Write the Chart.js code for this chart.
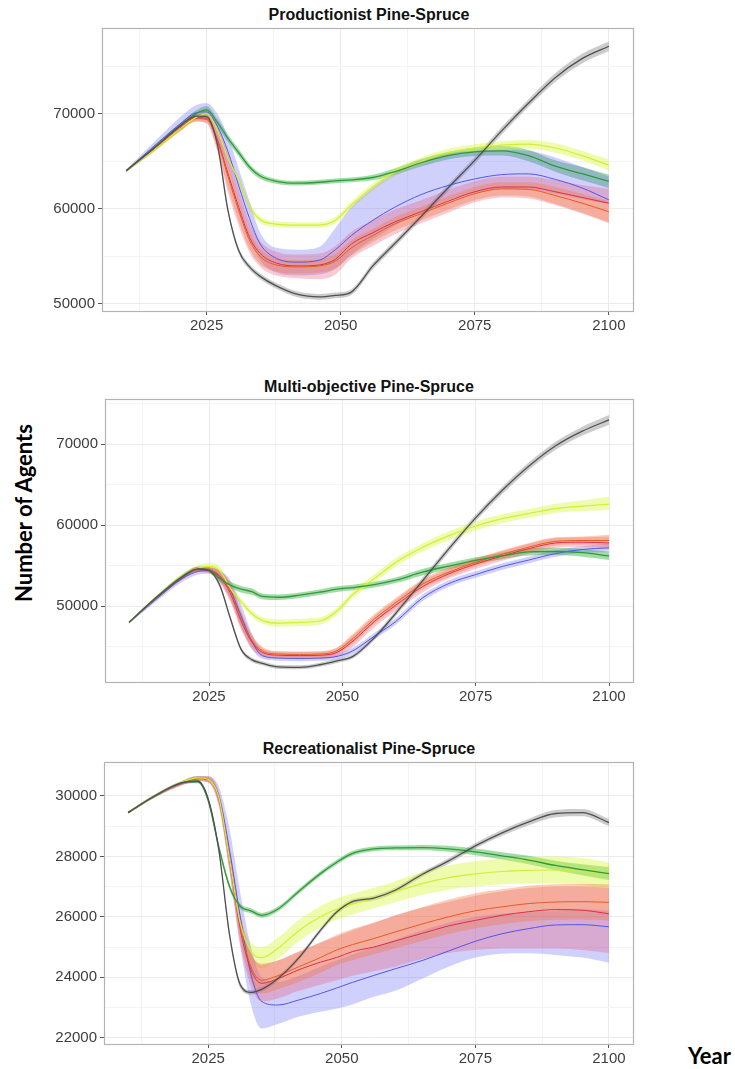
<!DOCTYPE html>
<html>
<head>
<meta charset="utf-8">
<script src="https://cdn.jsdelivr.net/npm/chart.js@4.4.1/dist/chart.umd.min.js"></script>
<style>
html,body{margin:0;padding:0;background:#fff;}
body{width:735px;height:1069px;position:relative;overflow:hidden;}
canvas{position:absolute;left:0;}
.ttl{position:absolute;left:119px;width:500px;height:20px;line-height:20px;text-align:center;white-space:nowrap;
  font-family:"Liberation Sans",Arial,sans-serif;font-weight:bold;font-size:16px;color:#111;}
.axl{position:absolute;font-family:Lato,"Open Sans",sans-serif;font-weight:bold;font-size:22px;color:#000;white-space:nowrap;}
</style>
</head>
<body>
<div class="ttl" style="top:5px">Productionist Pine-Spruce</div>
<div class="ttl" style="top:377px">Multi-objective Pine-Spruce</div>
<div class="ttl" style="top:739px">Recreationalist Pine-Spruce</div>
<div class="axl" style="left:-126px;top:498px;width:300px;height:30px;line-height:30px;text-align:center;transform:rotate(-90deg);">Number of Agents</div>
<div class="axl" style="left:688px;top:1041px;height:30px;line-height:30px;">Year</div>
<canvas id="c1" width="735" height="350" style="top:0px"></canvas>
<canvas id="c2" width="735" height="330" style="top:380px"></canvas>
<canvas id="c3" width="735" height="329" style="top:740px"></canvas>
<script>
// ---------- data ----------
const years = [2010, 2015, 2020, 2023, 2025, 2027, 2029, 2031, 2033, 2035, 2038, 2042, 2046, 2049, 2052, 2056, 2060, 2065, 2070, 2075, 2080, 2085, 2090, 2095, 2100];
const xMajorTicks = [2025, 2050, 2075, 2100];
const xMinorTicks = [2012.5, 2037.5, 2062.5, 2087.5];

// Panel 1: Productionist Pine-Spruce
const p1_grey    = [64000, 66300, 68700, 69750, 69700, 66800, 59800, 55600, 53900, 52900, 51900, 51000, 50750, 50900, 51250, 54000, 56300, 59200, 62200, 65100, 68200, 71100, 73800, 75800, 77100];
const p1_grey_lo = [63900, 66150, 68500, 69500, 69450, 66500, 59500, 55300, 53600, 52600, 51600, 50700, 50450, 50600, 50950, 53650, 55950, 58850, 61850, 64750, 67800, 70700, 73350, 75300, 76600];
const p1_grey_hi = [64100, 66450, 68900, 70000, 69950, 67100, 60100, 55900, 54200, 53200, 52200, 51300, 51050, 51200, 51550, 54350, 56650, 59550, 62550, 65450, 68600, 71500, 74250, 76300, 77600];
const p1_green    = [64000, 66300, 68700, 70000, 70400, 69100, 67400, 65900, 64400, 63450, 62900, 62700, 62800, 62950, 63050, 63300, 63900, 64850, 65600, 66000, 66100, 65600, 64500, 63700, 62900];
const p1_green_lo = [63900, 66100, 68400, 69650, 70000, 68700, 67000, 65500, 64050, 63150, 62650, 62450, 62550, 62700, 62800, 63000, 63550, 64450, 65200, 65550, 65600, 65000, 63900, 63000, 62200];
const p1_green_hi = [64100, 66500, 69000, 70350, 70800, 69500, 67800, 66300, 64750, 63750, 63150, 62950, 63050, 63200, 63300, 63600, 64250, 65250, 66000, 66450, 66600, 66200, 65100, 64400, 63600];
const p1_yellow    = [64000, 66100, 68400, 69600, 70000, 68300, 65300, 63000, 60300, 58850, 58400, 58300, 58300, 58800, 60400, 62300, 63800, 65000, 65900, 66400, 66700, 66800, 66400, 65600, 64600];
const p1_yellow_lo = [63900, 65900, 68100, 69300, 69650, 67900, 64900, 62600, 59950, 58500, 58100, 58000, 58000, 58450, 60000, 61900, 63400, 64600, 65500, 66000, 66300, 66350, 65900, 65100, 64000];
const p1_yellow_hi = [64100, 66300, 68700, 69900, 70350, 68700, 65700, 63400, 60650, 59200, 58700, 58600, 58600, 59150, 60800, 62700, 64200, 65400, 66300, 66800, 67100, 67250, 66900, 66100, 65200];
const p1_orange    = [64000, 66150, 68400, 69500, 69400, 67100, 63400, 59800, 56700, 55000, 54100, 53900, 54000, 54500, 55900, 57200, 58400, 59500, 60600, 61600, 62100, 62050, 61400, 60600, 59700];
const p1_orange_lo = [63900, 65950, 68150, 69200, 69050, 66300, 62200, 58700, 55800, 54200, 53400, 53200, 53300, 53700, 55100, 56500, 57700, 58800, 59900, 60900, 61400, 61300, 60500, 59600, 58600];
const p1_orange_hi = [64100, 66350, 68650, 69800, 69750, 67900, 64600, 60900, 57600, 55800, 54800, 54600, 54700, 55300, 56700, 57900, 59100, 60200, 61300, 62300, 62800, 62800, 62300, 61600, 60800];
const p1_red    = [64000, 66200, 68500, 69600, 69500, 67300, 63700, 60150, 57000, 55300, 54300, 54000, 54100, 54700, 56300, 57500, 58600, 59700, 60800, 61800, 62300, 62300, 61800, 61200, 60600];
const p1_red_lo = [63850, 65950, 68150, 69200, 69000, 66000, 61700, 58200, 55400, 53900, 53000, 52700, 52600, 53100, 54800, 56100, 57300, 58500, 59600, 60700, 61200, 61100, 60400, 59500, 58500];
const p1_red_hi = [64150, 66450, 68850, 70000, 70000, 68600, 65700, 62000, 58600, 56600, 55500, 55200, 55300, 56100, 57600, 58800, 59900, 60900, 62000, 62900, 63400, 63400, 63000, 62500, 62100];
const p1_blue    = [64000, 66500, 68900, 70100, 70200, 68700, 66000, 62400, 59000, 56300, 54800, 54400, 54600, 55700, 57200, 58800, 60150, 61500, 62450, 63150, 63600, 63680, 63100, 62200, 60950];
const p1_blue_lo = [63850, 66100, 68300, 69400, 69400, 67200, 64300, 60500, 57000, 54600, 53300, 53000, 53100, 53700, 55200, 56800, 58200, 59700, 60900, 61700, 62100, 62100, 61600, 61000, 60500];
const p1_blue_hi = [64150, 66900, 69600, 70900, 71100, 70000, 67600, 64200, 60800, 57500, 55900, 55700, 56000, 58000, 60200, 62200, 63800, 65100, 65800, 66100, 66200, 66100, 65400, 64400, 63400];
const p1_yMajor = [50000, 60000, 70000];
const p1_yMinor = [55000, 65000, 75000];

// Panel 2: Multi-objective Pine-Spruce
const p2_grey    = [48000, 51000, 53600, 54600, 54400, 52600, 48500, 44700, 43400, 42950, 42500, 42450, 42800, 43250, 43800, 46100, 49100, 53100, 57100, 60900, 64300, 67300, 69800, 71600, 73000];
const p2_grey_lo = [47900, 50850, 53400, 54350, 54150, 52300, 48200, 44450, 43150, 42700, 42250, 42200, 42550, 43000, 43550, 45800, 48750, 52700, 56700, 60500, 63850, 66850, 69300, 71050, 72400];
const p2_grey_hi = [48100, 51150, 53800, 54850, 54650, 52900, 48800, 44950, 43650, 43200, 42750, 42700, 43050, 43500, 44050, 46400, 49450, 53500, 57500, 61300, 64750, 67750, 70300, 72150, 73600];
const p2_green    = [48000, 51000, 53700, 54600, 54500, 53400, 52600, 52100, 51800, 51200, 51100, 51350, 51750, 52100, 52300, 52650, 53200, 54200, 54950, 55650, 56200, 56700, 56750, 56600, 56200];
const p2_green_lo = [47900, 50800, 53450, 54300, 54200, 53000, 52200, 51700, 51400, 50850, 50750, 51000, 51400, 51750, 51950, 52300, 52850, 53800, 54550, 55250, 55800, 56250, 56300, 56100, 55700];
const p2_green_hi = [48100, 51200, 53950, 54900, 54800, 53800, 53000, 52500, 52200, 51550, 51450, 51700, 52100, 52450, 52650, 53000, 53550, 54600, 55350, 56050, 56600, 57150, 57200, 57100, 56700];
const p2_yellow    = [48000, 51000, 53700, 54700, 54900, 54400, 52200, 50600, 49100, 48250, 47900, 48000, 48200, 49400, 51450, 53400, 55400, 57250, 58700, 59900, 60800, 61450, 62050, 62350, 62600];
const p2_yellow_lo = [47900, 50800, 53400, 54350, 54500, 54000, 51800, 50200, 48700, 47850, 47450, 47550, 47750, 48950, 51000, 52900, 54900, 56750, 58150, 59350, 60250, 60900, 61500, 61700, 61900];
const p2_yellow_hi = [48100, 51200, 54000, 55050, 55350, 54900, 52600, 51000, 49500, 48650, 48350, 48450, 48650, 49850, 51900, 53900, 55900, 57750, 59250, 60450, 61350, 62000, 62650, 63050, 63500];
const p2_orange    = [48000, 51000, 53600, 54600, 54500, 53800, 51900, 48400, 45800, 44500, 44100, 44050, 44100, 44500, 46000, 48400, 50400, 52700, 54200, 55400, 56400, 57300, 58000, 58100, 58100];
const p2_orange_lo = [47900, 50850, 53400, 54350, 54200, 53200, 50900, 47400, 45100, 44000, 43750, 43700, 43750, 44100, 45400, 47800, 49800, 52100, 53600, 54900, 55900, 56800, 57500, 57600, 57500];
const p2_orange_hi = [48100, 51150, 53800, 54850, 54800, 54400, 52900, 49400, 46500, 45000, 44450, 44400, 44450, 44900, 46600, 49000, 51000, 53300, 54800, 55900, 56900, 57800, 58500, 58600, 58800];
const p2_red    = [48000, 50900, 53500, 54500, 54400, 53600, 51600, 48200, 45600, 44300, 43950, 43900, 43950, 44300, 45700, 48100, 50100, 52400, 54000, 55200, 56200, 57100, 57800, 57900, 57800];
const p2_red_lo = [47900, 50700, 53250, 54200, 54050, 52900, 50500, 47100, 44800, 43750, 43500, 43450, 43500, 43800, 45000, 47400, 49400, 51700, 53400, 54600, 55600, 56500, 57200, 57300, 57100];
const p2_red_hi = [48100, 51100, 53750, 54800, 54750, 54300, 52700, 49300, 46400, 44850, 44400, 44350, 44400, 44800, 46400, 48800, 50800, 53100, 54600, 55800, 56800, 57700, 58400, 58500, 58600];
const p2_blue    = [48000, 50800, 53400, 54300, 54400, 53700, 52000, 48800, 45700, 43900, 43600, 43550, 43600, 43800, 44500, 46300, 48100, 51000, 52800, 53900, 54900, 55700, 56500, 57000, 57200];
const p2_blue_lo = [47850, 50500, 53000, 53900, 54000, 53000, 50800, 47500, 44700, 43500, 43250, 43200, 43250, 43450, 44100, 45900, 47700, 50600, 52400, 53500, 54500, 55300, 56100, 56600, 56700];
const p2_blue_hi = [48150, 51100, 53800, 54700, 54800, 54400, 53200, 50200, 46700, 44300, 43950, 43900, 43950, 44150, 44900, 46700, 48500, 51400, 53200, 54300, 55300, 56100, 56900, 57400, 57700];
const p2_yMajor = [50000, 60000, 70000];
const p2_yMinor = [45000, 55000, 65000, 75000];

// Panel 3: Recreationalist Pine-Spruce
const p3_grey    = [29450, 30000, 30430, 30480, 29900, 28200, 25400, 23750, 23500, 23600, 23950, 24650, 25550, 26150, 26500, 26620, 26880, 27400, 27850, 28350, 28780, 29140, 29420, 29450, 29120];
const p3_grey_lo = [29420, 29960, 30380, 30420, 29820, 28100, 25300, 23650, 23420, 23520, 23870, 24570, 25470, 26070, 26420, 26540, 26800, 27320, 27760, 28260, 28680, 29030, 29300, 29330, 29000];
const p3_grey_hi = [29480, 30040, 30480, 30540, 29980, 28300, 25500, 23850, 23580, 23680, 24030, 24730, 25630, 26230, 26580, 26700, 26960, 27480, 27940, 28440, 28880, 29250, 29540, 29570, 29240];
const p3_green    = [29450, 30000, 30430, 30500, 29850, 28300, 27000, 26350, 26200, 26050, 26250, 26850, 27430, 27800, 28100, 28250, 28280, 28290, 28250, 28150, 28020, 27880, 27700, 27560, 27430];
const p3_green_lo = [29420, 29960, 30380, 30440, 29770, 28200, 26900, 26270, 26120, 25970, 26170, 26770, 27350, 27720, 28020, 28170, 28200, 28200, 28150, 28040, 27900, 27740, 27540, 27380, 27220];
const p3_green_hi = [29480, 30040, 30480, 30560, 29930, 28400, 27100, 26430, 26280, 26130, 26330, 26930, 27510, 27880, 28180, 28330, 28360, 28380, 28350, 28260, 28140, 28020, 27860, 27740, 27650];
const p3_yellow    = [29450, 30000, 30450, 30600, 30550, 29950, 27900, 25800, 24850, 24650, 24950, 25550, 26000, 26250, 26420, 26620, 26830, 27100, 27300, 27420, 27500, 27540, 27550, 27500, 27430];
const p3_yellow_lo = [29420, 29960, 30400, 30540, 30480, 29850, 27700, 25550, 24550, 24300, 24600, 25200, 25650, 25900, 26080, 26280, 26480, 26720, 26900, 27000, 27080, 27100, 27100, 27050, 26950];
const p3_yellow_hi = [29480, 30040, 30500, 30660, 30620, 30050, 28100, 26050, 25150, 25000, 25300, 25900, 26350, 26600, 26760, 26960, 27180, 27480, 27700, 27840, 27920, 27980, 28000, 27950, 27800];
const p3_orange    = [29450, 30000, 30420, 30580, 30550, 29900, 27900, 25700, 24350, 23900, 24050, 24350, 24650, 24900, 25080, 25280, 25500, 25760, 26000, 26200, 26330, 26440, 26490, 26500, 26480];
const p3_orange_lo = [29420, 29960, 30370, 30520, 30470, 29750, 27600, 25300, 23900, 23450, 23600, 23850, 24150, 24400, 24560, 24760, 24960, 25200, 25430, 25620, 25750, 25850, 25900, 25910, 25880];
const p3_orange_hi = [29480, 30040, 30470, 30640, 30630, 30050, 28200, 26100, 24800, 24400, 24550, 24850, 25150, 25400, 25600, 25800, 26040, 26320, 26570, 26780, 26910, 27030, 27080, 27090, 27080];
const p3_red    = [29450, 30000, 30420, 30580, 30550, 29900, 27900, 25600, 24250, 23800, 23950, 24250, 24500, 24650, 24850, 25000, 25200, 25450, 25700, 25880, 26050, 26170, 26240, 26220, 26100];
const p3_red_lo = [29420, 29950, 30350, 30500, 30450, 29650, 27500, 25100, 23700, 23200, 23300, 23550, 23750, 23900, 24050, 24200, 24350, 24600, 24800, 24900, 24950, 24950, 24950, 24900, 24800];
const p3_red_hi = [29480, 30050, 30490, 30660, 30650, 30150, 28300, 26100, 24800, 24450, 24550, 24850, 25150, 25350, 25550, 25800, 26050, 26300, 26500, 26700, 26850, 26950, 27000, 27000, 26950];
const p3_blue    = [29450, 30000, 30420, 30580, 30550, 30000, 28200, 26000, 24100, 23200, 23080, 23250, 23460, 23640, 23830, 24060, 24280, 24550, 24870, 25190, 25440, 25610, 25730, 25740, 25670];
const p3_blue_lo = [29420, 29950, 30350, 30500, 30450, 29700, 27500, 25000, 23100, 22300, 22450, 22700, 22860, 22960, 23100, 23350, 23550, 23950, 24350, 24650, 24780, 24790, 24740, 24650, 24480];
const p3_blue_hi = [29480, 30050, 30490, 30660, 30650, 30300, 28900, 26800, 25000, 24000, 23850, 24050, 24350, 24550, 24750, 25000, 25250, 25550, 25800, 26000, 26100, 26150, 26200, 26250, 26200];
const p3_yMajor = [22000, 24000, 26000, 28000, 30000];
const p3_yMinor = [23000, 25000, 27000, 29000, 31000];

// ---------- styles ----------
const STYLE = {
  grey:   {line: '#505050', band: 'rgba(110,110,110,0.35)', w: 1.3},
  green:  {line: '#2f9a3c', band: 'rgba(50,175,60,0.45)',  w: 1.3},
  yellow: {line: '#d3ee38', band: 'rgba(215,245,50,0.40)', w: 1.2},
  orange: {line: '#e45a24', band: 'rgba(240,120,60,0.36)', w: 1.0},
  red:    {line: '#dc2f48', band: 'rgba(235,80,110,0.30)', w: 1.0},
  blue:   {line: '#5555e6', band: 'rgba(110,110,250,0.32)', w: 1.0}
};
const BAND_ORDER = ['orange', 'red', 'blue', 'yellow', 'green', 'grey'];
const LINE_ORDER = ['grey', 'green', 'yellow', 'orange', 'red', 'blue'];

const borderPlugin = {
  id: 'panelBorder',
  afterDatasetsDraw(chart) {
    const {ctx, chartArea: a} = chart;
    ctx.save();
    ctx.strokeStyle = '#b3b3b3';
    ctx.lineWidth = 1.2;
    ctx.strokeRect(Math.round(a.left) + 0.5, Math.round(a.top) + 0.5,
                   Math.round(a.right - a.left), Math.round(a.bottom - a.top));
    ctx.restore();
  }
};

function pts(arr) { return years.map((x, i) => ({x: x, y: arr[i]})); }

function makePanel(id, canvasH, plot, ymin, ymax, yMajor, yMinor, series) {
  const datasets = [];
  BAND_ORDER.forEach(k => {
    const s = series[k];
    datasets.push({data: pts(s.hi), borderWidth: 0, borderColor: 'rgba(0,0,0,0)', pointRadius: 0,
      fill: '+1', backgroundColor: STYLE[k].band, cubicInterpolationMode: 'monotone'});
    datasets.push({data: pts(s.lo), borderWidth: 0, borderColor: 'rgba(0,0,0,0)', pointRadius: 0,
      fill: false, cubicInterpolationMode: 'monotone'});
  });
  LINE_ORDER.forEach(k => {
    const s = series[k];
    datasets.push({data: pts(s.mean), borderWidth: STYLE[k].w, borderColor: STYLE[k].line, pointRadius: 0,
      fill: false, cubicInterpolationMode: 'monotone'});
  });
  const xAll = xMinorTicks.concat(xMajorTicks).sort((a, b) => a - b);
  const yAll = yMinor.concat(yMajor).sort((a, b) => a - b);
  const tickFont = {family: '"Liberation Sans", Arial, sans-serif', size: 15};
  new Chart(document.getElementById(id), {
    type: 'line',
    data: {datasets},
    plugins: [borderPlugin],
    options: {
      responsive: false, animation: false, devicePixelRatio: 1,
      layout: {padding: {left: 0, top: plot.top, right: 735 - plot.right, bottom: 0}},
      plugins: {legend: {display: false}, tooltip: {enabled: false},
                filler: {propagate: false, drawTime: 'beforeDatasetsDraw'}},
      elements: {point: {radius: 0}},
      scales: {
        x: {
          type: 'linear', min: 2005.5, max: 2104.5, bounds: 'data',
          afterBuildTicks: ax => { ax.ticks = xAll.map(v => ({value: v})); },
          afterFit: ax => { ax.height = canvasH - plot.bottom; },
          border: {display: false},
          grid: {
            color: c => xMajorTicks.includes(c.tick && c.tick.value) ? '#ebebeb' : '#f4f4f4',
            lineWidth: 1, tickLength: 4,
            tickColor: c => xMajorTicks.includes(c.tick && c.tick.value) ? '#555' : 'rgba(0,0,0,0)'
          },
          ticks: {autoSkip: false, maxRotation: 0, padding: 2, color: '#3d3d3d', font: tickFont,
            callback: v => xMajorTicks.includes(v) ? String(v) : ''}
        },
        y: {
          type: 'linear', min: ymin, max: ymax, bounds: 'data',
          afterBuildTicks: ax => { ax.ticks = yAll.map(v => ({value: v})); },
          afterFit: ax => { ax.width = plot.left; },
          border: {display: false},
          grid: {
            color: c => yMajor.includes(c.tick && c.tick.value) ? '#ebebeb' : '#f4f4f4',
            lineWidth: 1, tickLength: 4,
            tickColor: c => yMajor.includes(c.tick && c.tick.value) ? '#555' : 'rgba(0,0,0,0)'
          },
          ticks: {autoSkip: false, padding: 3, color: '#3d3d3d', font: tickFont,
            callback: v => yMajor.includes(v) ? String(v) : ''}
        }
      }
    }
  });
}

makePanel('c1', 350, {left: 102, right: 633, top: 28, bottom: 311}, 49260, 79020, p1_yMajor, p1_yMinor, {
  grey:   {mean: p1_grey,   lo: p1_grey_lo,   hi: p1_grey_hi},
  green:  {mean: p1_green,  lo: p1_green_lo,  hi: p1_green_hi},
  yellow: {mean: p1_yellow, lo: p1_yellow_lo, hi: p1_yellow_hi},
  orange: {mean: p1_orange, lo: p1_orange_lo, hi: p1_orange_hi},
  red:    {mean: p1_red,    lo: p1_red_lo,    hi: p1_red_hi},
  blue:   {mean: p1_blue,   lo: p1_blue_lo,   hi: p1_blue_hi}
});
makePanel('c2', 330, {left: 105, right: 633, top: 19, bottom: 302}, 40640, 75570, p2_yMajor, p2_yMinor, {
  grey:   {mean: p2_grey,   lo: p2_grey_lo,   hi: p2_grey_hi},
  green:  {mean: p2_green,  lo: p2_green_lo,  hi: p2_green_hi},
  yellow: {mean: p2_yellow, lo: p2_yellow_lo, hi: p2_yellow_hi},
  orange: {mean: p2_orange, lo: p2_orange_lo, hi: p2_orange_hi},
  red:    {mean: p2_red,    lo: p2_red_lo,    hi: p2_red_hi},
  blue:   {mean: p2_blue,   lo: p2_blue_lo,   hi: p2_blue_hi}
});
makePanel('c3', 329, {left: 104, right: 633, top: 22, bottom: 304}, 21790, 31125, p3_yMajor, p3_yMinor, {
  grey:   {mean: p3_grey,   lo: p3_grey_lo,   hi: p3_grey_hi},
  green:  {mean: p3_green,  lo: p3_green_lo,  hi: p3_green_hi},
  yellow: {mean: p3_yellow, lo: p3_yellow_lo, hi: p3_yellow_hi},
  orange: {mean: p3_orange, lo: p3_orange_lo, hi: p3_orange_hi},
  red:    {mean: p3_red,    lo: p3_red_lo,    hi: p3_red_hi},
  blue:   {mean: p3_blue,   lo: p3_blue_lo,   hi: p3_blue_hi}
});
</script>
</body>
</html>
